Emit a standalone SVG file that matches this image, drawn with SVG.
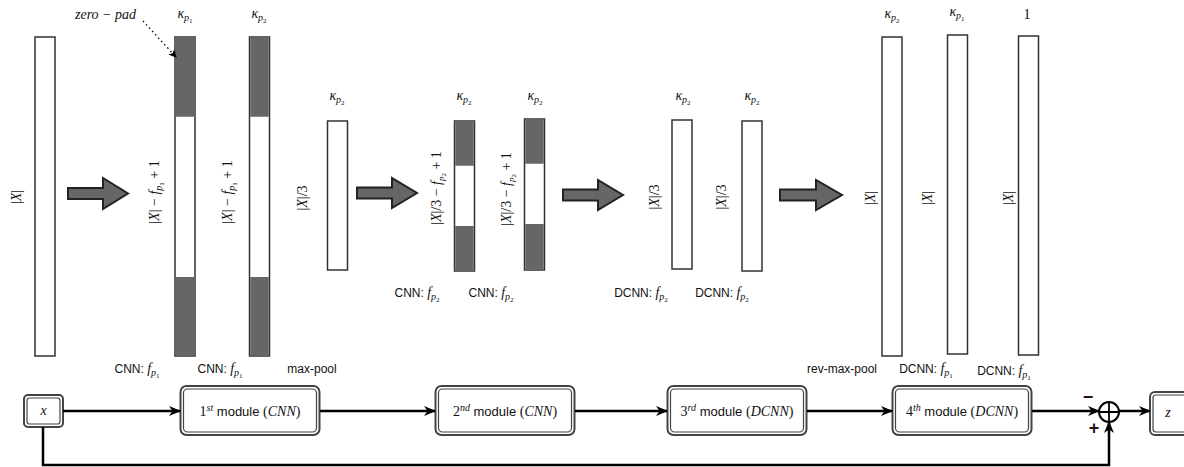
<svg xmlns="http://www.w3.org/2000/svg" width="1184" height="467" viewBox="0 0 1184 467">
<style>
.col{fill:#fff;stroke:#333;stroke-width:1.5}
.pad{fill:#666;stroke:none}
.big{fill:#666;stroke:#222;stroke-width:2;stroke-linejoin:miter}
.ser{font-family:"Liberation Serif",serif;font-size:14px;fill:#111}
.sf{font-family:"Liberation Serif",serif}
.it{font-style:italic}
.sans{font-family:"Liberation Sans",Arial,sans-serif;font-size:12px;fill:#111}
.sansf{font-family:"Liberation Sans",Arial,sans-serif}
.conn{fill:none;stroke:#000;stroke-width:2.5}
.mo{fill:#fff;stroke:#444;stroke-width:2}
.mi{fill:none;stroke:#444;stroke-width:1.2}
.sign{font-family:"Liberation Sans",Arial,sans-serif;font-weight:bold;font-size:18px;fill:#2a1414}
</style>
<defs>
<marker id="ah" markerWidth="12" markerHeight="10" refX="11" refY="5" orient="auto" markerUnits="userSpaceOnUse">
<path d="M0,0 L12,5 L0,10 L3.5,5 z" fill="#000"/>
</marker>
<marker id="dah" markerWidth="8" markerHeight="8" refX="7" refY="4" orient="auto" markerUnits="userSpaceOnUse">
<path d="M0,0 L8,4 L0,8 L2,4 z" fill="#000"/>
</marker>
</defs>
<rect width="1184" height="467" fill="#fff"/>

<!-- column 1 -->
<g id="col1">
<rect class="col" x="35" y="37" width="20" height="319"/>
<text class="ser" transform="translate(21,197) rotate(-90)" text-anchor="middle">|<tspan class="it">X</tspan>|</text>
</g>

<g id="arrow1"><path class="big" d="M68,188 L103,188 L103,178 L128,193.5 L103,209 L103,199 L68,199 z"/></g>

<!-- column 2 -->
<g id="col2">
<rect class="col" x="175" y="37" width="20" height="319"/>
<rect class="pad" x="175.75" y="37.75" width="18.5" height="79"/>
<rect class="pad" x="175.75" y="277" width="18.5" height="78.25"/>
<text class="ser" transform="translate(159,192) rotate(-90)" text-anchor="middle">|<tspan class="it">X</tspan>| − <tspan class="it">f</tspan><tspan class="it" font-size="10" dy="3">p</tspan><tspan font-size="7" dy="2">1</tspan><tspan dy="-5"> + 1</tspan></text>
<text class="ser it" x="185" y="18" text-anchor="middle">κ<tspan font-size="10" dy="3">p</tspan><tspan font-size="7" font-style="normal" dy="2">1</tspan></text>
<text class="sans" x="137" y="373" text-anchor="middle">CNN: <tspan class="sf it" font-size="14">f</tspan><tspan class="sf it" font-size="10" dy="3">p</tspan><tspan class="sf" font-size="7" dy="2">1</tspan></text>
</g>

<g id="zeropad">
<text class="ser it" x="75" y="19" font-size="14">zero − pad</text>
</g>

<!-- column 3 -->
<g id="col3">
<rect class="col" x="249.5" y="37" width="20" height="319"/>
<rect class="pad" x="250.25" y="37.75" width="18.5" height="79"/>
<rect class="pad" x="250.25" y="277" width="18.5" height="78.25"/>
<text class="ser" transform="translate(232,192) rotate(-90)" text-anchor="middle">|<tspan class="it">X</tspan>| − <tspan class="it">f</tspan><tspan class="it" font-size="10" dy="3">p</tspan><tspan font-size="7" dy="2">1</tspan><tspan dy="-5"> + 1</tspan></text>
<text class="ser it" x="259" y="18" text-anchor="middle">κ<tspan font-size="10" dy="3">p</tspan><tspan font-size="7" font-style="normal" dy="2">2</tspan></text>
<text class="sans" x="220" y="373" text-anchor="middle">CNN: <tspan class="sf it" font-size="14">f</tspan><tspan class="sf it" font-size="10" dy="3">p</tspan><tspan class="sf" font-size="7" dy="2">1</tspan></text>
</g>

<!-- column 4 -->
<g id="col4">
<rect class="col" x="327.5" y="121" width="20" height="149"/>
<text class="ser" transform="translate(307,198) rotate(-90)" text-anchor="middle" font-size="13">|<tspan class="it">X</tspan>|/3</text>
<text class="ser it" x="337" y="100" text-anchor="middle">κ<tspan font-size="10" dy="3">p</tspan><tspan font-size="7" font-style="normal" dy="2">2</tspan></text>
<text class="sans" x="312" y="373" text-anchor="middle">max-pool</text>
</g>

<g id="arrow2"><path class="big" d="M357,187.5 L392,187.5 L392,178 L417,193 L392,208 L392,198.5 L357,198.5 z"/></g>

<!-- column 5 -->
<g id="col5">
<rect class="col" x="454.5" y="121" width="20" height="150"/>
<rect class="pad" x="455.25" y="121.75" width="18.5" height="44"/>
<rect class="pad" x="455.25" y="226" width="18.5" height="44.25"/>
<text class="ser" transform="translate(441,188) rotate(-90)" text-anchor="middle" font-size="13">|<tspan class="it">X</tspan>|/3 − <tspan class="it">f</tspan><tspan class="it" font-size="9" dy="3">p</tspan><tspan font-size="7" dy="2">2</tspan><tspan dy="-5"> + 1</tspan></text>
<text class="ser it" x="464" y="100" text-anchor="middle">κ<tspan font-size="10" dy="3">p</tspan><tspan font-size="7" font-style="normal" dy="2">2</tspan></text>
<text class="sans" x="417" y="297" text-anchor="middle">CNN: <tspan class="sf it" font-size="14">f</tspan><tspan class="sf it" font-size="10" dy="3">p</tspan><tspan class="sf" font-size="7" dy="2">2</tspan></text>
</g>

<!-- column 6 -->
<g id="col6">
<rect class="col" x="524.5" y="119" width="20" height="151"/>
<rect class="pad" x="525.25" y="119.75" width="18.5" height="44"/>
<rect class="pad" x="525.25" y="224" width="18.5" height="45.25"/>
<text class="ser" transform="translate(511,189) rotate(-90)" text-anchor="middle" font-size="13">|<tspan class="it">X</tspan>|/3 − <tspan class="it">f</tspan><tspan class="it" font-size="9" dy="3">p</tspan><tspan font-size="7" dy="2">2</tspan><tspan dy="-5"> + 1</tspan></text>
<text class="ser it" x="535" y="100" text-anchor="middle">κ<tspan font-size="10" dy="3">p</tspan><tspan font-size="7" font-style="normal" dy="2">2</tspan></text>
<text class="sans" x="491" y="297" text-anchor="middle">CNN: <tspan class="sf it" font-size="14">f</tspan><tspan class="sf it" font-size="10" dy="3">p</tspan><tspan class="sf" font-size="7" dy="2">2</tspan></text>
</g>

<g id="arrow3"><path class="big" d="M563,189.5 L598,189.5 L598,180 L623,195 L598,210 L598,200.5 L563,200.5 z"/></g>

<!-- column 7 -->
<g id="col7">
<rect class="col" x="672" y="120" width="20" height="149"/>
<text class="ser" transform="translate(659,197) rotate(-90)" text-anchor="middle" font-size="13">|<tspan class="it">X</tspan>|/3</text>
<text class="ser it" x="683" y="100" text-anchor="middle">κ<tspan font-size="10" dy="3">p</tspan><tspan font-size="7" font-style="normal" dy="2">2</tspan></text>
<text class="sans" x="641" y="297" text-anchor="middle">DCNN: <tspan class="sf it" font-size="14">f</tspan><tspan class="sf it" font-size="10" dy="3">p</tspan><tspan class="sf" font-size="7" dy="2">2</tspan></text>
</g>

<!-- column 8 -->
<g id="col8">
<rect class="col" x="742" y="121" width="20" height="150"/>
<text class="ser" transform="translate(726,197) rotate(-90)" text-anchor="middle" font-size="13">|<tspan class="it">X</tspan>|/3</text>
<text class="ser it" x="752" y="100" text-anchor="middle">κ<tspan font-size="10" dy="3">p</tspan><tspan font-size="7" font-style="normal" dy="2">2</tspan></text>
<text class="sans" x="722" y="297" text-anchor="middle">DCNN: <tspan class="sf it" font-size="14">f</tspan><tspan class="sf it" font-size="10" dy="3">p</tspan><tspan class="sf" font-size="7" dy="2">2</tspan></text>
</g>

<g id="arrow4"><path class="big" d="M780,189.5 L816,189.5 L816,180 L842,195 L816,210 L816,200.5 L780,200.5 z"/></g>

<!-- column 9 -->
<g id="col9">
<rect class="col" x="882" y="37" width="20" height="319"/>
<text class="ser" transform="translate(875,198) rotate(-90)" text-anchor="middle">|<tspan class="it">X</tspan>|</text>
<text class="ser it" x="892" y="18" text-anchor="middle">κ<tspan font-size="10" dy="3">p</tspan><tspan font-size="7" font-style="normal" dy="2">2</tspan></text>
<text class="sans" x="842" y="373" text-anchor="middle">rev-max-pool</text>
</g>

<!-- column 10 -->
<g id="col10">
<rect class="col" x="947.5" y="35" width="20" height="319"/>
<text class="ser" transform="translate(932,198) rotate(-90)" text-anchor="middle">|<tspan class="it">X</tspan>|</text>
<text class="ser it" x="957" y="16" text-anchor="middle">κ<tspan font-size="10" dy="3">p</tspan><tspan font-size="7" font-style="normal" dy="2">1</tspan></text>
<text class="sans" x="926" y="373" text-anchor="middle">DCNN: <tspan class="sf it" font-size="14">f</tspan><tspan class="sf it" font-size="10" dy="3">p</tspan><tspan class="sf" font-size="7" dy="2">1</tspan></text>
</g>

<!-- column 11 -->
<g id="col11">
<rect class="col" x="1018.5" y="36" width="20" height="319"/>
<text class="ser" transform="translate(1013,198) rotate(-90)" text-anchor="middle">|<tspan class="it">X</tspan>|</text>
<text class="ser" x="1027" y="19" text-anchor="middle" font-size="16">1</text>
<text class="sans" x="1004" y="375" text-anchor="middle">DCNN: <tspan class="sf it" font-size="14">f</tspan><tspan class="sf it" font-size="10" dy="3">p</tspan><tspan class="sf" font-size="7" dy="2">1</tspan></text>
</g>

<!-- bottom nodes -->
<g id="node-x">
<rect class="mo" x="24" y="395" width="39" height="32" rx="4"/>
<rect class="mi" x="27" y="398" width="33" height="26" rx="2.5"/>
<text class="ser it" x="43.5" y="415" text-anchor="middle">x</text>
</g>
<g id="module1">
<rect class="mo" x="180.5" y="386" width="139" height="49" rx="6"/>
<rect class="mi" x="183.5" y="389" width="133" height="43" rx="4"/>
<text class="ser" x="250" y="416" text-anchor="middle">1<tspan class="it" font-size="10" dy="-5">st</tspan><tspan class="sansf" font-size="13" dy="5"> module </tspan>(<tspan class="it">CNN</tspan>)</text>
</g>
<g id="module2">
<rect class="mo" x="435.5" y="386" width="139" height="49" rx="6"/>
<rect class="mi" x="438.5" y="389" width="133" height="43" rx="4"/>
<text class="ser" x="505" y="416" text-anchor="middle">2<tspan class="it" font-size="10" dy="-5">nd</tspan><tspan class="sansf" font-size="13" dy="5"> module </tspan>(<tspan class="it">CNN</tspan>)</text>
</g>
<g id="module3">
<rect class="mo" x="667.5" y="386" width="139" height="49" rx="6"/>
<rect class="mi" x="670.5" y="389" width="133" height="43" rx="4"/>
<text class="ser" x="737" y="416" text-anchor="middle">3<tspan class="it" font-size="10" dy="-5">rd</tspan><tspan class="sansf" font-size="13" dy="5"> module </tspan>(<tspan class="it">DCNN</tspan>)</text>
</g>
<g id="module4">
<rect class="mo" x="892.5" y="386" width="139" height="49" rx="6"/>
<rect class="mi" x="895.5" y="389" width="133" height="43" rx="4"/>
<text class="ser" x="962" y="416" text-anchor="middle">4<tspan class="it" font-size="10" dy="-5">th</tspan><tspan class="sansf" font-size="13" dy="5"> module </tspan>(<tspan class="it">DCNN</tspan>)</text>
</g>
<g id="sum">
<circle cx="1109" cy="412" r="10" fill="#fff" stroke="#000" stroke-width="2"/>
<path d="M1099,412 H1119 M1109,402 V422" stroke="#000" stroke-width="1.8"/>
</g>
<g id="node-z">
<rect class="mo" x="1150" y="392" width="60" height="43" rx="5"/>
<rect class="mi" x="1153" y="395" width="54" height="37" rx="3"/>
<text class="ser it" x="1168" y="417" text-anchor="middle" font-size="13">z</text>
</g>

<!-- connectors -->
<g id="connectors">
<path class="conn" d="M63,411 H180" marker-end="url(#ah)"/>
<path class="conn" d="M320,411 H435" marker-end="url(#ah)"/>
<path class="conn" d="M575,411 H667" marker-end="url(#ah)"/>
<path class="conn" d="M807,411 H892" marker-end="url(#ah)"/>
<path class="conn" d="M1032,411 H1099" marker-end="url(#ah)"/>
<path class="conn" d="M1119,411 H1150" marker-end="url(#ah)"/>
<path class="conn" d="M43,427 V465 H1109 V422" marker-end="url(#ah)"/>
<path d="M143,21 L176,57" fill="none" stroke="#000" stroke-width="1.3" stroke-dasharray="1.5,3" marker-end="url(#dah)"/>
<text class="sign" x="1088" y="403" text-anchor="middle" font-size="20">−</text>
<text class="sign" x="1094" y="434" text-anchor="middle" font-size="20">+</text>
</g>
</svg>
